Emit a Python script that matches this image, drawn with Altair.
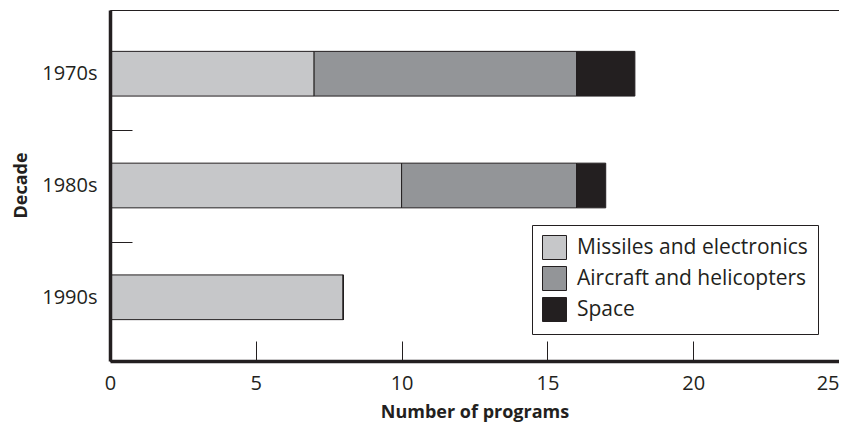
import altair as alt
import pandas as pd

decades = ["1970s", "1980s", "1990s"]
series = ["Missiles and electronics", "Aircraft and helicopters", "Space"]
missiles = [7, 10, 8]
aircraft = [9, 6, 0]
space = [2, 1, 0]
colors = ["#c6c7c9", "#939598", "#231f20"]
x_ticks = [0, 5, 10, 15, 20, 25]

rows = []
for i, d in enumerate(decades):
    for k, (s, vals) in enumerate(zip(series, [missiles, aircraft, space])):
        rows.append({"Decade": d, "Type": s, "Count": vals[i], "order": k})
df = pd.DataFrame(rows)

FONT = "Open Sans"
INK = "#231f20"

bars = alt.Chart(df).mark_bar(stroke=INK, strokeWidth=1).encode(
    y=alt.Y(
        "Decade:N",
        sort=decades,
        scale=alt.Scale(paddingInner=0.6, paddingOuter=0.37),
        axis=alt.Axis(
            title="Decade",
            titleFont=FONT, titleFontSize=18, titleFontWeight="bold", titleColor=INK,
            titleX=-89, titleY=175, titleBaseline="middle", titleAlign="center",
            labelFont=FONT, labelFontSize=20, labelColor=INK, labelPadding=35,
            tickOffset=56, labelOffset=-56,
            tickOpacity={"condition": {"test": "datum.value === '1990s'", "value": 0}, "value": 1},
            tickSize={"expr": "-22"}, tickColor=INK, tickWidth=1,
            domainColor=INK, domainWidth=3.5, zindex=1,
        ),
    ),
    x=alt.X(
        "Count:Q",
        stack="zero",
        scale=alt.Scale(domain=[0, 25], nice=False),
        axis=alt.Axis(
            title="Number of programs", values=x_ticks,
            titleFont=FONT, titleFontSize=18, titleFontWeight="bold", titleColor=INK,
            titleY=51, titleBaseline="middle",
            labelFont=FONT, labelFontSize=20, labelColor=INK, labelPadding=32,
            labelAlign={"condition": {"test": "datum.value === 25", "value": "right"}, "value": "center"},
            tickSize={"expr": "-20"}, tickColor=INK, tickWidth=1,
            domainColor=INK, domainWidth=3.5, grid=False, zindex=1,
        ),
    ),
    color=alt.Color(
        "Type:N",
        sort=series,
        scale=alt.Scale(domain=series, range=colors),
        legend=alt.Legend(
            title=None, orient="none", legendX=422, legendY=215,
            strokeColor=INK, fillColor="white", padding=10,
            symbolType="square", symbolSize=576, symbolStrokeColor=INK,
            symbolStrokeWidth=1, symbolOpacity=1,
            labelFont=FONT, labelFontSize=21, labelColor=INK, labelLimit=400,
            labelOffset=10, rowPadding=2,
        ),
    ),
    order=alt.Order("order:Q"),
)

chart = bars.properties(
    width=729, height=351,
    autosize=alt.AutoSizeParams(type="none"),
    padding={"left": 102, "top": 2, "right": 0, "bottom": 65},
).configure_view(stroke=INK, strokeWidth=1)

chart.save("out.html", embed_options={"renderer": "svg", "actions": False})
